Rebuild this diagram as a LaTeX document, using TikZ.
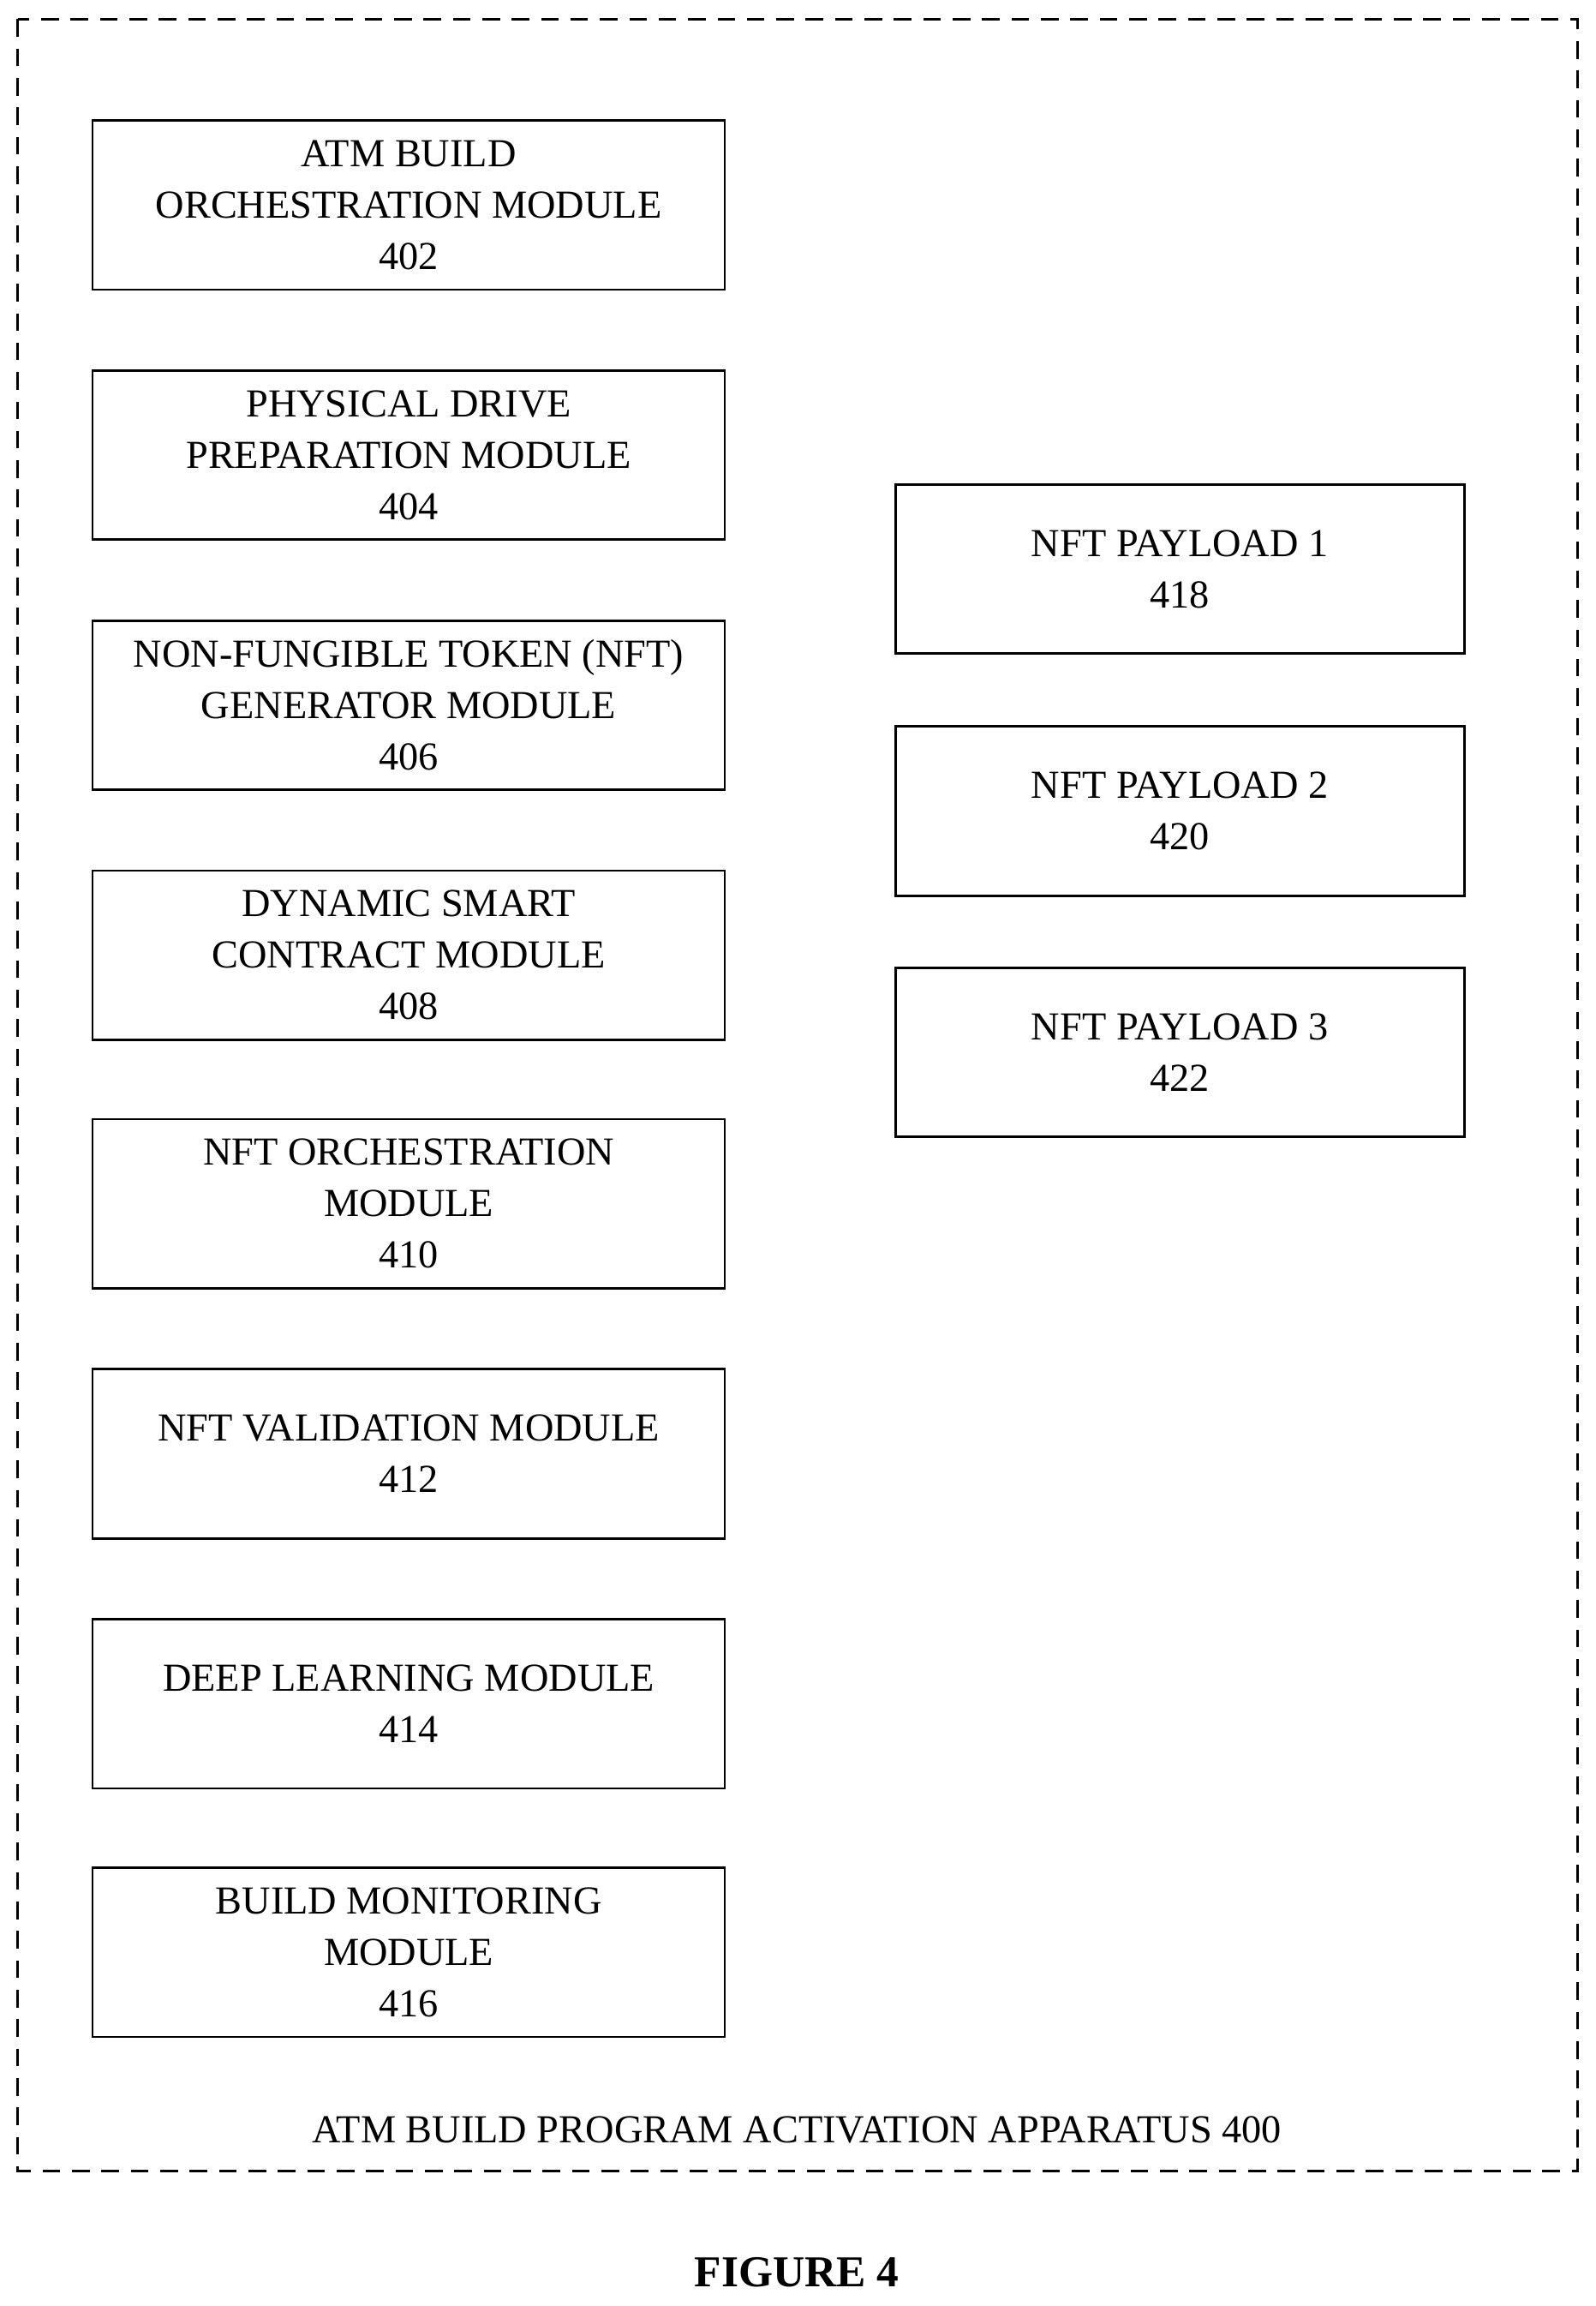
\documentclass[tikz,border=0pt]{standalone}
\usepackage{fontspec}
\setmainfont{Liberation Serif}
\usepackage{tikz}

\tikzset{
    module/.style={draw,thick,minimum width=215pt,minimum height=57.5pt,align=center,font=\fontsize{13.5}{17.5}\selectfont},
    payload/.style={draw,thick,minimum width=193.5pt,minimum height=57.5pt,align=center,font=\fontsize{13.5}{17.5}\selectfont}
}

\begin{document}
\begin{tikzpicture}[x=0.5pt,y=-0.5pt]
            \useasboundingbox (0,0) rectangle (1085,1568);
            \draw[thick,dashed,dash pattern=on 6pt off 4pt] (12,13) rectangle (1073,1476);

            \node (m402) at (278,139.5) [module] {ATM BUILD\\ORCHESTRATION MODULE\\402};
            \node (m404) at (278,309.5) [module] {PHYSICAL DRIVE\\PREPARATION MODULE\\404};
            \node (m406) at (278,479.5) [module] {NON-FUNGIBLE TOKEN (NFT)\\GENERATOR MODULE\\406};
            \node (m408) at (278,649.5) [module] {DYNAMIC SMART\\CONTRACT MODULE\\408};
            \node (m410) at (278,818.5) [module] {NFT ORCHESTRATION\\MODULE\\410};
            \node (m412) at (278,988.5) [module] {NFT VALIDATION MODULE\\412};
            \node (m414) at (278,1158.5) [module] {DEEP LEARNING MODULE\\414};
            \node (m416) at (278,1327.5) [module] {BUILD MONITORING\\MODULE\\416};

            \node (p418) at (802.5,387) [payload] {NFT PAYLOAD 1\\418};
            \node (p420) at (802.5,551.5) [payload] {NFT PAYLOAD 2\\420};
            \node (p422) at (802.5,715.5) [payload] {NFT PAYLOAD 3\\422};

            \node (app) at (542,1448) [font=\fontsize{13.5}{17.5}\selectfont] {ATM BUILD PROGRAM ACTIVATION APPARATUS 400};
            \node (fig) at (542,1545) [font=\fontsize{15}{18}\selectfont\bfseries] {FIGURE 4};

        \end{tikzpicture}
\end{document}
